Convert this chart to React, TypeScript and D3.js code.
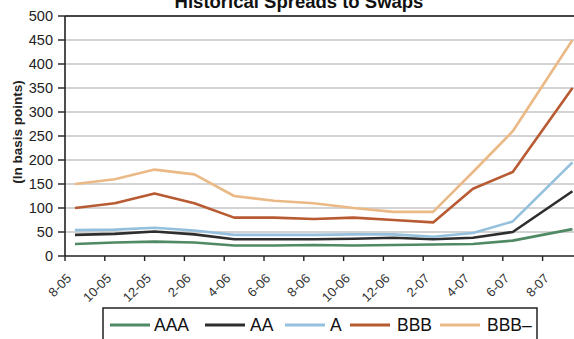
import React from "react";
import * as d3 from "d3";

// Monthly category slots on the x axis (labels shown every other month)
const months = [
  "8-05", "9-05", "10-05", "11-05", "12-05", "1-06", "2-06", "3-06", "4-06",
  "5-06", "6-06", "7-06", "8-06", "9-06", "10-06", "11-06", "12-06", "1-07",
  "2-07", "3-07", "4-07", "5-07", "6-07", "7-07", "8-07", "9-07",
];

// Observation dates
const dates = [
  "8-05", "10-05", "12-05", "2-06", "4-06", "6-06", "8-06", "10-06",
  "12-06", "2-07", "4-07", "6-07", "9-07",
];

// Spreads to swaps, basis points
const aaa = [25, 28, 30, 28, 22, 22, 23, 22, 23, 24, 25, 32, 56];
const aa = [44, 46, 51, 45, 35, 35, 35, 36, 38, 35, 38, 50, 135];
const a = [54, 55, 59, 53, 44, 44, 44, 45, 45, 40, 48, 72, 195];
const bbb = [100, 110, 130, 110, 80, 80, 77, 80, 75, 70, 140, 175, 350];
const bbbMinus = [150, 160, 180, 170, 125, 115, 110, 100, 92, 92, 175, 260, 450];

const seriesNames = ["AAA", "AA", "A", "BBB", "BBB–"];
const seriesColors = ["#4f8a64", "#2e2e2e", "#94c0de", "#b85a32", "#ebb986"];

const yTicks = [0, 50, 100, 150, 200, 250, 300, 350, 400, 450, 500];

const W = 574;
const H = 339;
const FONT = "Liberation Sans, Arial, sans-serif";

export default function App() {
  const seriesValues = [aaa, aa, a, bbb, bbbMinus];

  const x = d3
    .scaleBand<string>()
    .domain(months)
    .range([65, 65 + months.length * 19.9])
    .padding(0);
  const bw = x.bandwidth();
  const cx = (m: string) => (x(m) as number) + bw / 2;

  const y = d3.scaleLinear().domain([0, 500]).range([256, 16]);

  const line = d3
    .line<number>()
    .x((_, i) => cx(dates[i]))
    .y((v) => y(v));

  const plotLeft = 65;
  const plotRight = W;

  // Tick marks at the start of every second month slot
  const tickMonths = months.filter((_, i) => i % 2 === 0);

  // Legend layout
  const legendItems = [
    { x0: 110, tx: 154 },
    { x0: 205, tx: 250 },
    { x0: 285, tx: 330 },
    { x0: 350, tx: 397 },
    { x0: 440, tx: 487 },
  ];
  const legendY = 325;

  return (
    <div style={{ position: "fixed", left: 0, top: 0, width: W, height: H, background: "#fff" }}>
      <svg width={W} height={H} style={{ display: "block" }}>
        <rect width={W} height={H} fill="#fff" />

        {/* title */}
        <text
          x={299}
          y={8}
          textAnchor="middle"
          fontFamily={FONT}
          fontWeight="bold"
          fontSize={18.5}
          fill="#111"
        >
          Historical Spreads to Swaps
        </text>

        {/* gridlines */}
        {yTicks.slice(1, -1).map((t) => (
          <line
            key={t}
            x1={plotLeft}
            x2={plotRight}
            y1={y(t)}
            y2={y(t)}
            stroke="#c4c4c4"
            strokeWidth={1.5}
          />
        ))}
        <line x1={plotLeft} x2={plotRight} y1={y(500)} y2={y(500)} stroke="#444" strokeWidth={2} />

        {/* y axis */}
        <line x1={plotLeft} x2={plotLeft} y1={y(500)} y2={y(0)} stroke="#222" strokeWidth={1.6} />
        {yTicks.map((t) => (
          <g key={t}>
            <line x1={plotLeft - 7} x2={plotLeft} y1={y(t)} y2={y(t)} stroke="#222" strokeWidth={1.4} />
            <text
              x={53}
              y={y(t)}
              dy="0.36em"
              textAnchor="end"
              fontFamily={FONT}
              fontSize={14.5}
              fill="#222"
            >
              {t}
            </text>
          </g>
        ))}
        <text
          transform={`translate(22,132) rotate(-90)`}
          textAnchor="middle"
          fontFamily={FONT}
          fontWeight="bold"
          fontSize={13.5}
          fill="#222"
        >
          (In basis points)
        </text>

        {/* x axis */}
        <line x1={plotLeft} x2={plotRight} y1={y(0)} y2={y(0)} stroke="#222" strokeWidth={1.6} />
        {tickMonths.map((m) => {
          const tx = x(m) as number;
          return (
            <g key={m}>
              <line x1={tx} x2={tx} y1={y(0)} y2={y(0) + 5} stroke="#222" strokeWidth={1.4} />
              <text
                transform={`translate(${tx + 4},${y(0) + 20}) rotate(-45)`}
                textAnchor="end"
                dy="0.35em"
                fontFamily={FONT}
                fontSize={13}
                fill="#333"
              >
                {m}
              </text>
            </g>
          );
        })}

        {/* series */}
        {seriesValues.map((vals, i) => (
          <path
            key={seriesNames[i]}
            d={line(vals) ?? ""}
            fill="none"
            stroke={seriesColors[i]}
            strokeWidth={2.6}
            strokeLinejoin="round"
          />
        ))}

        {/* legend */}
        <rect x={103} y={308} width={434} height={40} fill="#fff" stroke="#222" strokeWidth={1.5} />
        {legendItems.map((it, i) => (
          <g key={seriesNames[i]}>
            <line
              x1={it.x0}
              x2={it.x0 + 40}
              y1={legendY}
              y2={legendY}
              stroke={seriesColors[i]}
              strokeWidth={3}
            />
            <text
              x={it.tx}
              y={legendY}
              dy="0.36em"
              fontFamily={FONT}
              fontSize={17.5}
              fill="#111"
            >
              {seriesNames[i]}
            </text>
          </g>
        ))}
      </svg>
    </div>
  );
}
